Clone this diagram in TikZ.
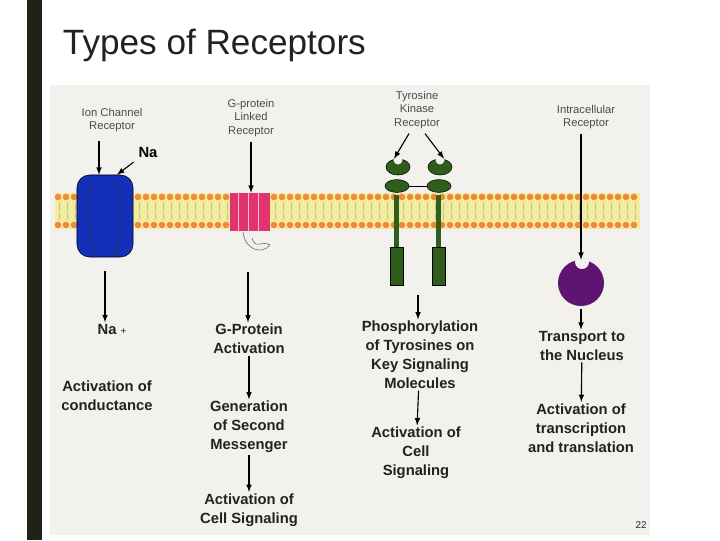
\documentclass[tikz,border=0pt]{standalone}
\usepackage{fontspec}
\setmainfont{Liberation Sans}
\usepackage{xcolor}
\usetikzlibrary{shapes,arrows,positioning,fit,backgrounds}
\definecolor{bar}{HTML}{1E2318}
\definecolor{lipid}{HTML}{F3EC9C}
\definecolor{head}{HTML}{EE8A3C}
\definecolor{chan}{HTML}{1530B8}
\definecolor{gpr}{HTML}{E2336F}
\definecolor{tyr}{HTML}{2F5E1C}
\definecolor{intra}{HTML}{5E1470}
\definecolor{txt}{HTML}{222222}
\definecolor{paper}{HTML}{F2F1ED}

\begin{document}
\begin{tikzpicture}[x=0.025cm, y=-0.025cm,
    rlabel/.style={align=center, font=\fontsize{8}{9.5}\selectfont, text=black!70},
    stage/.style={align=center, font=\fontsize{10.5}{13.5}\selectfont\bfseries, text=txt, inner sep=1pt},
    arrow/.style={-latex, thick, black}
]
    \useasboundingbox (0,0) rectangle (720,540);
    \fill[white] (0,0) rectangle (720,540);
    \fill[bar] (27,0) rectangle (42,540);
    \fill[paper] (50,85) rectangle (650,535);
    \node[anchor=west, font=\fontsize{25}{30}\selectfont, text=txt] (title) at (58,45) {Types of Receptors};

    % membrane
    \fill[lipid] (55,193) rectangle (640,229);
    \foreach \x in {58,66,...,638} {
        \fill[head] (\x,197) circle (3.3);
        \fill[head] (\x,225) circle (3.3);
        \draw[black!35, thin] (\x+2,202) -- (\x+1,211) (\x+2,212) -- (\x+1,220);
    }

    % ion channel
    \node[draw=black, fill=chan, rounded corners=9pt, minimum width=1.4cm, minimum height=2.05cm] (ion) at (105,216) {};
    \draw[black!80] (92,182) .. controls (86,210) and (90,240) .. (96,256)
        (118,182) .. controls (124,210) and (120,240) .. (114,256);
    \node[rlabel] (ionlbl) at (112,120) {Ion Channel\\Receptor};
    \node[font=\fontsize{10.5}{12}\selectfont\bfseries] (na) at (148,152) {Na};
    \draw[arrow] (ionlbl.south -| ion.north) ++(-6,4) coordinate (ia) -- (ia |- ion.north);
    \draw[arrow] (na.south west) -- ([xshift=0.3cm]ion.north);

    % g-protein
    \node[fill=gpr, minimum width=1.0cm, minimum height=0.95cm] (gp) at (250,212) {};
    \foreach \x in {238,248,258} \draw[white!70!gpr] (\x,192) -- (\x,232);
    \draw[black!60] (243,232) .. controls (245,250) and (262,255) .. (270,245) .. controls (262,240) and (255,250) .. (252,238);
    \node[rlabel] (gplbl) at (251,118) {G-protein\\Linked\\Receptor};
    \draw[arrow] (gplbl) -- (gplbl |- gp.north);

    % tyrosine kinase
    \foreach \x/\n in {398/a, 440/b} {
        \fill[tyr] (\x-4,195) rectangle (\x+1,250);
        \node[draw=black, fill=tyr, minimum width=0.32cm, minimum height=0.95cm, inner sep=0pt] (tk\n) at (\x-1,266) {};
        \node[draw=black, fill=tyr, ellipse, minimum width=0.6cm, minimum height=0.32cm, inner sep=0pt] (tov\n) at (\x-1,186) {};
        \node[draw=black, fill=tyr, ellipse, minimum width=0.6cm, minimum height=0.4cm, inner sep=0pt] (tcup\n) at (\x,167) {};
        \fill[paper] (\x,160) circle (4.5);
    }
    \draw[black] (tova) -- (tovb);
    \node[rlabel] (tklbl) at (417,110) {Tyrosine\\Kinase\\Receptor};
    \draw[arrow] ([xshift=-0.2cm]tklbl.south) -- ([xshift=-0.1cm]tcupa.north);
    \draw[arrow] ([xshift=0.2cm]tklbl.south) -- ([xshift=0.1cm]tcupb.north);

    % intracellular
    \node[circle, fill=intra, minimum size=1.15cm, inner sep=0pt] (ir) at (581,283) {};
    \fill[paper] (582,262) circle (7);
    \node[rlabel] (irlbl) at (586,117) {Intracellular\\Receptor};
    \draw[arrow] (irlbl.south -| ir) -- (ir.north);

    % cascades
    \node[stage] (na2) at (112,329) {Na \textmd{\scriptsize+}};
    \node[stage] (cond) at (107,396) {Activation of\\conductance};
    \draw[arrow] (ion) ++(0,55) coordinate (ib) -- (ib |- na2.north);

    \node[stage] (gact) at (249,339) {G-Protein\\Activation};
    \node[stage] (gsec) at (249,427) {Generation\\of Second\\Messenger};
    \node[stage] (gsig) at (249,510) {Activation of\\Cell Signaling};
    \draw[arrow] (gp) ++(-2,60) coordinate (gb) -- (gb |- gact.north);
    \draw[arrow] (gact) -- (gsec);
    \draw[arrow] (gsec) -- (gsig);

    \node[stage] (phos) at (420,355) {Phosphorylation\\of Tyrosines on\\Key Signaling\\Molecules};
    \node[stage] (tsig) at (416,453) {Activation of\\Cell\\Signaling};
    \draw[arrow] (418,295) coordinate (tb) -- (tb |- phos.north);
    \draw[arrow] (phos) -- (tsig);

    \node[stage] (trans) at (582,346) {Transport to\\the Nucleus};
    \node[stage] (tact) at (581,428) {Activation of\\transcription\\and translation};
    \draw[arrow] (ir.south) ++(0,3) coordinate (rb) -- (rb |- trans.north);
    \draw[arrow] (trans) -- (tact);

    \node[font=\scriptsize, text=txt] (page) at (641,525) {22};
\end{tikzpicture}
\end{document}
